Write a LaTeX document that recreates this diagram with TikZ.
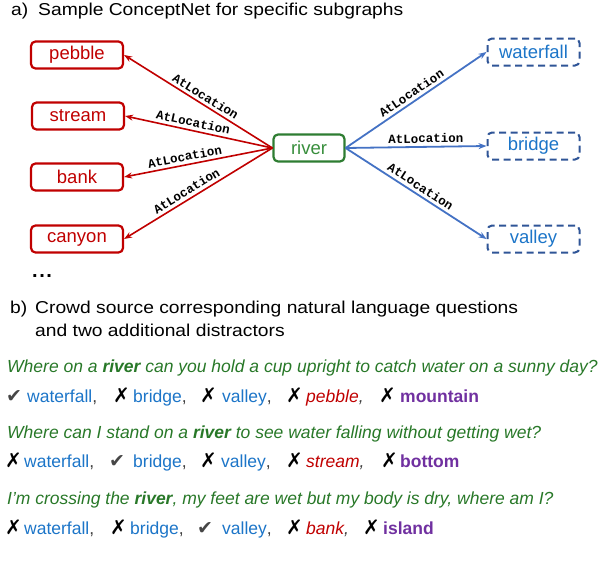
\documentclass[tikz,border=0pt]{standalone}
\usepackage{fontspec}
\setmainfont{Liberation Sans}
\newfontfamily\headf{Liberation Sans}[FakeStretch=1.12]
\newfontfamily\monof{Liberation Mono}
\newfontfamily\symf{DejaVu Sans}
\usetikzlibrary{arrows.meta}
\definecolor{cred}{RGB}{192,0,0}
\definecolor{cgreen}{RGB}{46,125,50}
\definecolor{cgtext}{RGB}{56,142,60}
\definecolor{cqgreen}{RGB}{40,120,40}
\definecolor{cedge}{RGB}{68,114,196}
\definecolor{cbord}{RGB}{47,85,151}
\definecolor{cbtext}{RGB}{28,117,200}
\definecolor{cpurple}{RGB}{112,48,160}
\definecolor{ccheck}{RGB}{70,70,70}
\tikzset{
  boxbase/.style={rounded corners=4.5pt, minimum width=92pt, minimum height=27pt, inner sep=0pt, font=\fontsize{18.5}{20}\selectfont},
  rbox/.style={boxbase, draw=cred, line width=2.2pt, text=cred},
  bbox/.style={boxbase, draw=cbord, line width=2pt, dash pattern=on 7pt off 4.5pt, text=cbtext},
  gbox/.style={boxbase, minimum width=71pt, draw=cgreen, line width=2.2pt, text=cgtext},
  redge/.style={draw=cred, line width=1.6pt},
  bedge/.style={draw=cedge, line width=1.8pt},
  tip/.tip={Stealth[length=8pt,width=6pt]},
  lab/.style={font=\monof\bfseries\fontsize{12.5}{13}\selectfont, sloped, above=2pt, inner sep=1pt, text=black},
  head/.style={anchor=base west, inner sep=0pt, font=\headf\fontsize{17.2}{20}\selectfont},
  txt/.style={anchor=base west, inner sep=0pt, font=\fontsize{17.5}{20}\selectfont},
  qtxt/.style={txt, font=\fontsize{17.5}{20}\selectfont\itshape, text=cqgreen},
  sym/.style={anchor=base west, inner sep=0pt, font=\symf\fontsize{20}{20}\selectfont},
  csym/.style={anchor=base west, inner sep=0pt, font=\symf\fontsize{19}{20}\selectfont, text=ccheck},
  blu/.style={txt, text=cbtext},
  redi/.style={txt, text=cred, font=\fontsize{17.5}{20}\selectfont\itshape},
  purb/.style={txt, text=cpurple, font=\fontsize{17.5}{20}\selectfont\bfseries},
}
\newcommand{\cm}{\textcolor{black!75}{,}}
\newcommand{\xm}{✗}
\newcommand{\ckm}{✔}
\begin{document}
\begin{tikzpicture}[x=1pt,y=-1pt]
\useasboundingbox (0,0) rectangle (600,570);
% part a
\node[head] (ta0) at (11,16) {a)};
\node[head] (ta) at (38,16) {Sample ConceptNet for specific subgraphs};
\node[rbox] (pebble) at (77,55) {pebble};
\node[rbox] (stream) at (78,116) {stream};
\node[rbox] (bank) at (77,177) {bank};
\node[rbox] (canyon) at (77,239) {canyon};
\node[txt, font=\bfseries\fontsize{20}{20}\selectfont] (dots) at (32,277) {.\hspace{1.5pt}.\hspace{1.5pt}.};
\node[gbox] (river) at (309,148) {river};
\node[bbox] (waterfall) at (533.5,52) {waterfall};
\node[bbox] (bridge) at (533.5,146) {bridge};
\node[bbox] (valley) at (533.5,239) {valley};
\coordinate (rw) at (river.west);
\coordinate (re) at (river.east);
\draw[redge, tip-] (pebble.east) -- (rw) node[lab, pos=0.52] {AtLocation};
\draw[redge, tip-] (stream.east) -- (rw) node[lab, pos=0.45] {AtLocation};
\draw[redge, tip-] (bank.east) -- (rw) node[lab, pos=0.42] {AtLocation};
\draw[redge, tip-] (canyon.east) -- (rw) node[lab, pos=0.45] {AtLocation};
\draw[bedge, -tip] (re) -- (waterfall.west) node[lab, pos=0.5] {AtLocation};
\draw[bedge, -tip] (re) -- (bridge.west) node[lab, pos=0.57] {AtLocation};
\draw[bedge, -tip] (re) -- (valley.west) node[lab, pos=0.5] {AtLocation};
% part b
\node[head] (tb0) at (10,313) {b)};
\node[head] (tb1) at (35,313) {Crowd source corresponding natural language questions};
\node[head] (tb2) at (35,336) {and two additional distractors};
% question 1
\node[qtxt] (q1) at (7,372) {Where on a \textbf{river} can you hold a cup upright to catch water on a sunny day?};
\node[csym] (s11) at (6,402) {\ckm};
\node[blu] (a11) at (27,402) {waterfall\cm};
\node[sym] (s12) at (113,402) {\xm};
\node[blu] (a12) at (133,402) {bridge\cm};
\node[sym] (s13) at (200,402) {\xm};
\node[blu] (a13) at (222,402) {valley\cm};
\node[sym] (s14) at (286,402) {\xm};
\node[redi] (a14) at (306,402) {pebble\cm};
\node[sym] (s15) at (379,402) {\xm};
\node[purb] (a15) at (400,402) {mountain};
% question 2
\node[qtxt] (q2) at (7,438) {Where can I stand on a \textbf{river} to see water falling without getting wet?};
\node[sym] (s21) at (5,467) {\xm};
\node[blu] (a21) at (24,467) {waterfall\cm};
\node[csym] (s22) at (109,467) {\ckm};
\node[blu] (a22) at (133,467) {bridge\cm};
\node[sym] (s23) at (200,467) {\xm};
\node[blu] (a23) at (221,467) {valley\cm};
\node[sym] (s24) at (286,467) {\xm};
\node[redi] (a24) at (306,467) {stream\cm};
\node[sym] (s25) at (381,467) {\xm};
\node[purb] (a25) at (400,467) {bottom};
% question 3
\node[qtxt] (q3) at (7,504) {I’m crossing the \textbf{river}, my feet are wet but my body is dry, where am I?};
\node[sym] (s31) at (5,534) {\xm};
\node[blu] (a31) at (24,534) {waterfall\cm};
\node[sym] (s32) at (110,534) {\xm};
\node[blu] (a32) at (130,534) {bridge\cm};
\node[csym] (s33) at (197,534) {\ckm};
\node[blu] (a33) at (222,534) {valley\cm};
\node[sym] (s34) at (286,534) {\xm};
\node[redi] (a34) at (306,534) {bank\cm};
\node[sym] (s35) at (363,534) {\xm};
\node[purb] (a35) at (383,534) {island};
\end{tikzpicture}
\end{document}
